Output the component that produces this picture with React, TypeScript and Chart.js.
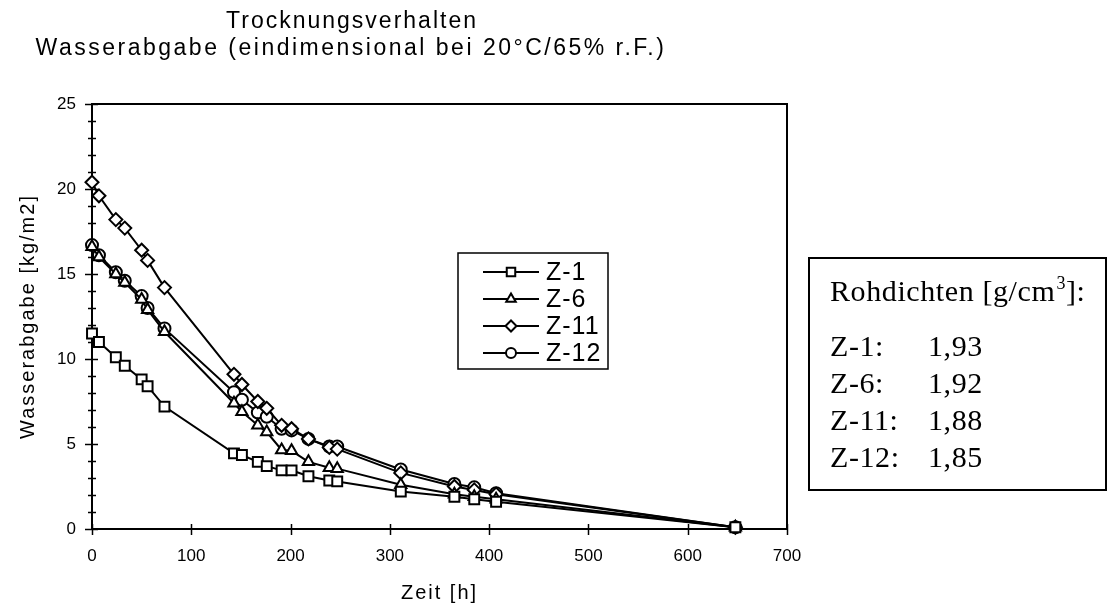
import { useEffect, useRef } from 'react';
import { Chart, registerables } from 'chart.js';

Chart.register(...registerables);

// ---- data ----
const times = [0, 7, 24, 33, 50, 56, 73, 143, 151, 167, 176, 191, 201, 218, 239, 247, 311, 365, 385, 407, 648];
const z1 = [11.5, 11.0, 10.1, 9.6, 8.8, 8.4, 7.2, 4.45, 4.35, 3.95, 3.7, 3.45, 3.45, 3.1, 2.85, 2.8, 2.2, 1.9, 1.75, 1.6, 0.1];
const z6 = [16.6, 16.0, 15.0, 14.5, 13.5, 12.9, 11.6, 7.4, 6.9, 6.1, 5.7, 4.65, 4.6, 3.95, 3.6, 3.55, 2.6, 2.05, 1.9, 1.75, 0.1];
const z11 = [20.4, 19.6, 18.2, 17.7, 16.4, 15.8, 14.2, 9.1, 8.5, 7.5, 7.1, 6.1, 5.9, 5.3, 4.8, 4.7, 3.3, 2.5, 2.3, 2.05, 0.1];
const z12 = [16.7, 16.1, 15.1, 14.6, 13.7, 13.0, 11.8, 8.05, 7.6, 6.85, 6.6, 5.9, 5.8, 5.3, 4.85, 4.85, 3.5, 2.65, 2.45, 2.1, 0.1];

const seriesLabels = ['Z-1', 'Z-6', 'Z-11', 'Z-12'];
const seriesValues = [z1, z6, z11, z12];
const pointStyles = ['rect', 'triangle', 'rectRot', 'circle'];
const pointRadii = [7, 6.5, 6.5, 6];

const titleLines = ['Trocknungsverhalten', 'Wasserabgabe (eindimensional bei 20°C/65% r.F.)'];
const xTitle = 'Zeit [h]';
const yTitle = 'Wasserabgabe [kg/m2]';
const xTickValues = [0, 100, 200, 300, 400, 500, 600, 700];
const yMinorStep = 1;

const densityHeader = 'Rohdichten [g/cm';
const densityUnitSup = '3';
const densityHeaderEnd = ']:';
const densityNames = ['Z-1:', 'Z-6:', 'Z-11:', 'Z-12:'];
const densityValues = ['1,93', '1,92', '1,88', '1,85'];

const SANS = "'Liberation Sans', Arial, Helvetica, sans-serif";
const SERIF = "'Liberation Serif', 'Times New Roman', serif";

function drawMarker(ctx: CanvasRenderingContext2D, style: string, x: number, y: number, r: number) {
  ctx.beginPath();
  if (style === 'rect') {
    const s = r * Math.SQRT1_2;
    ctx.rect(x - s, y - s, 2 * s, 2 * s);
  } else if (style === 'triangle') {
    let rad = 0;
    ctx.moveTo(x + Math.sin(rad) * r, y - Math.cos(rad) * r);
    rad += (2 * Math.PI) / 3;
    ctx.lineTo(x + Math.sin(rad) * r, y - Math.cos(rad) * r);
    rad += (2 * Math.PI) / 3;
    ctx.lineTo(x + Math.sin(rad) * r, y - Math.cos(rad) * r);
    ctx.closePath();
  } else if (style === 'rectRot') {
    ctx.moveTo(x - r, y);
    ctx.lineTo(x, y - r);
    ctx.lineTo(x + r, y);
    ctx.lineTo(x, y + r);
    ctx.closePath();
  } else {
    ctx.arc(x, y, r, 0, Math.PI * 2);
  }
  ctx.fillStyle = '#fff';
  ctx.fill();
  ctx.stroke();
}

function spaced(ctx: CanvasRenderingContext2D, ls: string) {
  try {
    (ctx as any).letterSpacing = ls;
  } catch (e) {
    /* ignore */
  }
}

const customPlugin = {
  id: 'customDecor',
  beforeDatasetsDraw(chart: any) {
    const { ctx, chartArea, scales } = chart;
    const { left, right, top, bottom } = chartArea;
    const x = scales.x;
    const y = scales.y;
    ctx.save();
    ctx.strokeStyle = '#000';
    ctx.lineWidth = 2;
    ctx.strokeRect(left, top, right - left, bottom - top);
    ctx.lineWidth = 1.5;
    for (let v = y.min; v <= y.max; v += yMinorStep) {
      const py = Math.round(y.getPixelForValue(v)) + 0.5;
      const major = v % 5 === 0;
      ctx.beginPath();
      ctx.moveTo(left - (major ? 7 : 4), py);
      ctx.lineTo(left + (major ? 6 : 4), py);
      ctx.stroke();
    }
    for (const t of xTickValues) {
      const px = Math.round(x.getPixelForValue(t)) + 0.5;
      ctx.beginPath();
      ctx.moveTo(px, bottom - 5);
      ctx.lineTo(px, bottom + 6);
      ctx.stroke();
    }
    ctx.restore();
  },
  afterDatasetsDraw(chart: any) {
    const { ctx, chartArea } = chart;
    ctx.save();
    ctx.fillStyle = '#000';
    ctx.strokeStyle = '#000';

    // Titles
    ctx.font = `23px ${SANS}`;
    ctx.textAlign = 'center';
    ctx.textBaseline = 'middle';
    spaced(ctx, '2px');
    ctx.fillText(titleLines[0], 352, 22);
    spaced(ctx, '2.5px');
    ctx.fillText(titleLines[1], 351, 49);

    // Axis titles
    ctx.font = `20px ${SANS}`;
    spaced(ctx, '2px');
    ctx.fillText(xTitle, (chartArea.left + chartArea.right) / 2, 593);
    ctx.save();
    ctx.translate(28, (chartArea.top + chartArea.bottom) / 2);
    ctx.rotate(-Math.PI / 2);
    ctx.fillText(yTitle, 0, 0);
    ctx.restore();

    // Legend box inside plot
    const lx = 458, ly = 253, lw = 150, lh = 116;
    ctx.lineWidth = 1.5;
    ctx.strokeRect(lx, ly, lw, lh);
    ctx.font = `25px ${SANS}`;
    spaced(ctx, '1px');
    ctx.textAlign = 'left';
    for (let i = 0; i < seriesLabels.length; i++) {
      const ry = 272 + i * 27;
      ctx.lineWidth = 2;
      ctx.beginPath();
      ctx.moveTo(483, ry);
      ctx.lineTo(539, ry);
      ctx.stroke();
      drawMarker(ctx, pointStyles[i], 511, ry, pointRadii[i] - 1);
      ctx.fillStyle = '#000';
      ctx.fillText(seriesLabels[i], 546, ry + 1);
    }

    // Density box on the right
    ctx.lineWidth = 2;
    ctx.strokeRect(809, 258, 297, 232);
    spaced(ctx, '0.6px');
    ctx.textAlign = 'left';
    ctx.textBaseline = 'alphabetic';
    ctx.font = `30px ${SERIF}`;
    let hx = 830;
    const hy = 301;
    ctx.fillText(densityHeader, hx, hy);
    hx += ctx.measureText(densityHeader).width;
    ctx.font = `18px ${SERIF}`;
    ctx.fillText(densityUnitSup, hx + 1, hy - 12);
    hx += ctx.measureText(densityUnitSup).width + 1;
    ctx.font = `30px ${SERIF}`;
    ctx.fillText(densityHeaderEnd, hx, hy);
    for (let i = 0; i < densityNames.length; i++) {
      const by = 356 + i * 37;
      ctx.fillText(densityNames[i], 830, by);
      ctx.fillText(densityValues[i], 928, by);
    }
    ctx.restore();
  },
};

export default function App() {
  const ref = useRef<HTMLCanvasElement | null>(null);
  useEffect(() => {
    if (!ref.current) return;
    const datasets = seriesLabels.map((label, i) => ({
      label,
      data: times.map((t, j) => ({ x: t, y: seriesValues[i][j] })),
      borderColor: '#000',
      borderWidth: 2,
      pointStyle: pointStyles[i] as any,
      pointRadius: pointRadii[i],
      pointBackgroundColor: '#fff',
      pointBorderColor: '#000',
      pointBorderWidth: 2,
      tension: 0,
      clip: false as any,
    }));
    const chart = new Chart(ref.current, {
      type: 'line',
      data: { datasets },
      options: {
        responsive: false,
        animation: false,
        devicePixelRatio: 1,
        layout: { padding: { left: 0, top: 104, right: 322, bottom: 0 } },
        plugins: {
          legend: { display: false },
          title: { display: false },
          tooltip: { enabled: false },
        },
        scales: {
          x: {
            type: 'linear',
            min: 0,
            max: 700,
            afterFit: (s: any) => {
              s.height = 79;
            },
            ticks: {
              stepSize: 100,
              color: '#000',
              padding: 17,
              maxRotation: 0,
              font: { family: SANS, size: 17 },
            },
            grid: { display: false, drawTicks: false },
            border: { display: false },
          },
          y: {
            type: 'linear',
            min: 0,
            max: 25,
            afterFit: (s: any) => {
              s.width = 92;
            },
            ticks: {
              stepSize: 5,
              color: '#000',
              padding: 16,
              font: { family: SANS, size: 17 },
            },
            grid: { display: false, drawTicks: false },
            border: { display: false },
          },
        },
      },
      plugins: [customPlugin],
    });
    return () => chart.destroy();
  }, []);
  return (
    <div style={{ position: 'fixed', left: 0, top: 0, width: 1109, height: 608, background: '#fff' }}>
      <canvas ref={ref} width={1109} height={608} style={{ display: 'block' }} />
    </div>
  );
}
